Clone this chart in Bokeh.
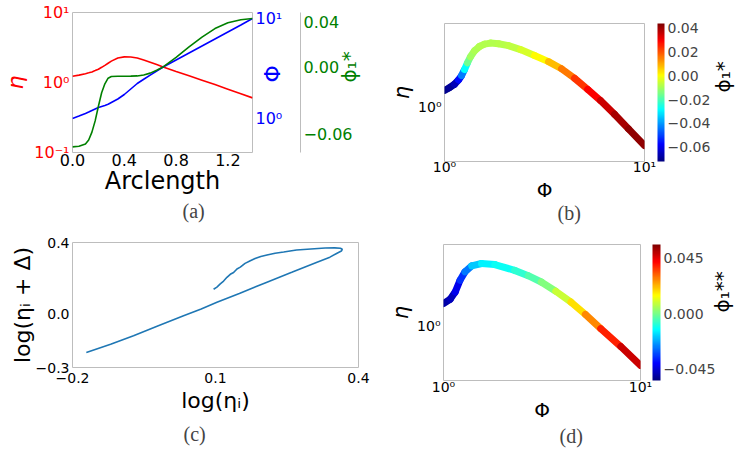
import math
from bokeh.plotting import figure
from bokeh.models import (Range1d, LinearAxis, LogAxis, LogScale, LinearScale, FixedTicker,
                          CustomJSTickFormatter, ColorBar, LinearColorMapper, Title,
                          ColumnDataSource)
from bokeh.layouts import column, row
from bokeh.embed import file_html
from bokeh.resources import INLINE
from bokeh.transform import linear_cmap

# ---------------- data ----------------
# (a) quantities along the arclength
arclength = [0.00, 0.05, 0.10, 0.125, 0.15, 0.175, 0.20, 0.225, 0.25, 0.275, 0.30, 0.35, 0.40,
             0.45, 0.50, 0.55, 0.60, 0.65, 0.70, 0.80, 0.90, 1.00, 1.10, 1.20, 1.30, 1.39]
eta_a = [1.230, 1.274, 1.334, 1.374, 1.416, 1.479, 1.549, 1.648, 1.758, 1.884, 2.018, 2.239, 2.323,
         2.312, 2.239, 2.099, 1.950, 1.803, 1.667, 1.439, 1.245, 1.079, 0.933, 0.804, 0.692, 0.603]
Phi_a = [1.000, 1.059, 1.122, 1.159, 1.202, 1.245, 1.288, 1.321, 1.352, 1.387, 1.445, 1.567, 1.738,
         1.972, 2.239, 2.466, 2.716, 2.985, 3.273, 3.846, 4.519, 5.309, 6.237, 7.328, 8.610, 10.00]
phistar_a = [-0.0711, -0.0706, -0.0685, -0.0650, -0.0580, -0.0480, -0.0350, -0.0230, -0.0150,
             -0.0100, -0.0085, -0.0083, -0.0083, -0.0082, -0.0080, -0.0072, -0.0055, -0.0030,
             0.0000, 0.0085, 0.0178, 0.0265, 0.0341, 0.0392, 0.0420, 0.0430]

# (b) eta vs Phi coloured by phi1*
Phi_b = [1.000, 1.059, 1.122, 1.175, 1.216, 1.259, 1.303, 1.349, 1.413, 1.496, 1.585, 1.698,
         1.862, 2.089, 2.399, 2.818, 3.311, 3.846, 4.467, 5.200, 6.026, 7.079, 8.318, 10.00]
eta_b = [1.242, 1.288, 1.349, 1.429, 1.514, 1.641, 1.799, 1.950, 2.113, 2.239, 2.312, 2.344,
         2.323, 2.265, 2.148, 1.986, 1.828, 1.660, 1.462, 1.259, 1.084, 0.902, 0.741, 0.592]
phistar_b = [-0.071, -0.070, -0.068, -0.063, -0.050, -0.036, -0.020, -0.011, -0.009, -0.0085,
             -0.0083, -0.0083, -0.0082, -0.0075, -0.006, -0.002, 0.004, 0.012, 0.020, 0.027,
             0.033, 0.038, 0.041, 0.043]
cbar_b_ticks = [-0.06, -0.04, -0.02, 0.00, 0.02, 0.04]

# (c) log(eta_i + Delta) vs log(eta_i)
log_eta_i = [-0.171, -0.120, -0.072, -0.020, 0.033, 0.070, 0.103, 0.150, 0.208, 0.260, 0.313,
             0.340, 0.355, 0.364, 0.366, 0.362, 0.350, 0.330, 0.300, 0.270, 0.243, 0.225, 0.208,
             0.195, 0.183, 0.173, 0.162, 0.152, 0.145, 0.138, 0.131, 0.124, 0.117, 0.110, 0.103,
             0.096]
log_eta_i_delta = [-0.216, -0.170, -0.122, -0.066, -0.010, 0.028, 0.065, 0.115, 0.178, 0.233,
                   0.290, 0.318, 0.340, 0.352, 0.362, 0.368, 0.370, 0.369, 0.364, 0.358, 0.347,
                   0.340, 0.330, 0.322, 0.310, 0.298, 0.283, 0.262, 0.252, 0.232, 0.222, 0.205,
                   0.184, 0.168, 0.150, 0.138]

# (d) eta vs Phi coloured by phi1**
Phi_d = [1.000, 1.081, 1.146, 1.213, 1.285, 1.390, 1.560, 1.820, 2.296, 2.692, 3.133, 3.715,
         4.436, 5.248, 6.281, 7.943, 10.00]
eta_d = [1.358, 1.439, 1.585, 1.858, 2.080, 2.254, 2.328, 2.296, 2.123, 1.977, 1.816, 1.603,
         1.387, 1.175, 0.970, 0.762, 0.592]
phistar2_d = [-0.050, -0.049, -0.046, -0.038, -0.032, -0.022, -0.015, -0.013, -0.010, -0.006,
              -0.002, 0.004, 0.014, 0.022, 0.033, 0.044, 0.051]
cbar_d_ticks = [-0.045, 0.000, 0.045]

# ---------------- styling helpers ----------------
FONT = "DejaVu Sans"
SERIF = "Liberation Serif"
FRAME = "#bdbdbd"


def jet_palette(n=256):
    pal = []
    for i in range(n):
        t = i / (n - 1)
        r = min(max(1.5 - abs(4 * t - 3), 0), 1)
        g = min(max(1.5 - abs(4 * t - 2), 0), 1)
        b = min(max(1.5 - abs(4 * t - 1), 0), 1)
        pal.append("#%02x%02x%02x" % (round(r * 255), round(g * 255), round(b * 255)))
    return pal


JET = jet_palette()


def log_fmt():
    return CustomJSTickFormatter(code="""
const e = Math.round(Math.log10(tick));
const m = {"-": "\\u207b", "0": "\\u2070", "1": "\\u00b9", "2": "\\u00b2"};
return "10" + String(e).split("").map(c => m[c]).join("");
""")


def fixed_fmt(d):
    return CustomJSTickFormatter(code=f"return tick.toFixed({d}).replace('-', '\\u2212');")


def style_axis(ax, size, color="black"):
    ax.axis_line_color = None
    ax.major_tick_line_color = None
    ax.minor_tick_line_color = None
    ax.major_tick_out = 0
    ax.major_tick_in = 0
    ax.minor_tick_out = 0
    ax.minor_tick_in = 0
    ax.major_label_text_font = FONT
    ax.major_label_text_font_size = size
    ax.major_label_text_color = color
    ax.axis_label_text_font = FONT
    ax.axis_label_text_font_style = "normal"
    ax.axis_label_text_color = color


def bottom_to_top(ax):
    if "axis_label_orientation" in ax.properties():
        ax.axis_label_orientation = math.pi / 2


def make_fig(w, h, left, right, top, bottom, **kw):
    p = figure(width=w, height=h, min_border_left=left, min_border_right=right,
               min_border_top=top, min_border_bottom=bottom, output_backend="svg",
               toolbar_location=None, title=None, **kw)
    if "frame_align" in p.properties():
        p.frame_align = False
    p.grid.visible = False
    p.outline_line_color = FRAME
    p.outline_line_width = 1
    p.background_fill_color = "white"
    p.border_fill_color = "white"
    return p


def caption(p, text, offset, standoff):
    kw = dict(text=text, align="left", offset=offset, text_font=SERIF,
              text_font_size="20px", text_font_style="normal")
    try:
        t = Title(standoff=standoff, **kw)
    except Exception:
        t = Title(standoff=0, **kw)
    p.add_layout(t, "below")


def colored_line(p, xs, ys, cs, low, high):
    src = ColumnDataSource(dict(
        xs=[[xs[i], xs[i + 1]] for i in range(len(xs) - 1)],
        ys=[[ys[i], ys[i + 1]] for i in range(len(ys) - 1)],
        c=[(cs[i] + cs[i + 1]) / 2 for i in range(len(cs) - 1)],
    ))
    p.multi_line("xs", "ys", source=src, line_width=7, line_cap="round", line_join="round",
                 line_color=linear_cmap("c", JET, low, high))


def add_colorbar(p, low, high, ticks, digits, xoff, width, height, label, label_standoff):
    mapper = LinearColorMapper(palette=JET, low=low, high=high)
    cb = ColorBar(color_mapper=mapper, ticker=FixedTicker(ticks=ticks), formatter=fixed_fmt(digits),
                  width=width, height=height, location=(xoff, 0), margin=0, padding=0,
                  major_label_text_font=FONT, major_label_text_font_size="14px",
                  major_tick_line_color=None, minor_tick_line_color=None, bar_line_color=None,
                  major_tick_out=0, major_tick_in=0, minor_tick_out=0, minor_tick_in=0,
                  label_standoff=3, background_fill_color=None, border_line_color=None)
    p.add_layout(cb, "right")
    # axis that only carries the colour-bar label
    lab = LinearAxis(ticker=FixedTicker(ticks=[], minor_ticks=[]), axis_label=label)
    style_axis(lab, "14px")
    lab.major_label_standoff = 0
    lab.axis_label_text_font_size = "20px"
    lab.axis_label_standoff = label_standoff
    bottom_to_top(lab)
    p.add_layout(lab, "right")


# ---------------- panel (a) ----------------
pa = make_fig(375, 226, 67, 122, 12, 74, x_range=Range1d(0, 1.39), y_range=Range1d(0.1, 10),
              y_axis_type="log")
pa.extra_y_ranges = {"phi": Range1d(0.457, 11.48), "ps": Range1d(-0.0761, 0.0484)}
pa.extra_y_scales = {"phi": LogScale(), "ps": LinearScale()}

pa.line(arclength, eta_a, line_color="#ff0000", line_width=1.6)
pa.line(arclength, Phi_a, line_color="#0000ff", line_width=1.6, y_range_name="phi")
pa.line(arclength, phistar_a, line_color="#008000", line_width=1.6, y_range_name="ps")

ya = pa.yaxis[0]
ya.ticker = FixedTicker(ticks=[0.1, 1, 10], minor_ticks=[])
ya.formatter = log_fmt()
style_axis(ya, "16px", "#ff0000")
ya.major_label_standoff = 3
ya.axis_label = "η"
ya.axis_label_text_font_size = "22px"
ya.axis_label_text_font_style = "italic"
ya.axis_label_standoff = 3

phi_ax = LogAxis(y_range_name="phi", ticker=FixedTicker(ticks=[1, 10], minor_ticks=[]),
                 formatter=log_fmt(), axis_label="Φ")
style_axis(phi_ax, "16px", "#0000ff")
phi_ax.major_label_standoff = 3
phi_ax.axis_label_text_font_size = "22px"
phi_ax.axis_label_standoff = -13
bottom_to_top(phi_ax)
pa.add_layout(phi_ax, "right")

ps_ax = LinearAxis(y_range_name="ps", ticker=FixedTicker(ticks=[-0.06, 0.0, 0.04], minor_ticks=[]),
                   formatter=fixed_fmt(2), axis_label="ϕ₁*")
style_axis(ps_ax, "16px", "#008000")
ps_ax.axis_line_color = FRAME
ps_ax.major_label_standoff = 3
ps_ax.axis_label_text_font_size = "20px"
ps_ax.axis_label_standoff = -7
bottom_to_top(ps_ax)
pa.add_layout(ps_ax, "right")

xa = pa.xaxis[0]
xa.ticker = FixedTicker(ticks=[0.0, 0.4, 0.8, 1.2], minor_ticks=[])
xa.formatter = fixed_fmt(1)
style_axis(xa, "16px")
xa.major_label_standoff = 1
xa.axis_label = "Arclength"
xa.axis_label_text_font_size = "24px"
xa.axis_label_standoff = -2
caption(pa, "(a)", 110, 0)

# ---------------- panel (b) ----------------
pb = make_fig(374, 226, 69, 105, 23, 65, x_range=Range1d(1, 10), y_range=Range1d(0.4786, 3.048),
              x_axis_type="log", y_axis_type="log")
colored_line(pb, Phi_b, eta_b, phistar_b, -0.072, 0.0442)
yb = pb.yaxis[0]
yb.ticker = FixedTicker(ticks=[1], minor_ticks=[])
yb.formatter = log_fmt()
style_axis(yb, "14px")
yb.major_label_standoff = 3
yb.axis_label = "η"
yb.axis_label_text_font_size = "21px"
yb.axis_label_text_font_style = "italic"
yb.axis_label_standoff = 1
xb = pb.xaxis[0]
xb.ticker = FixedTicker(ticks=[1, 10], minor_ticks=[])
xb.formatter = log_fmt()
style_axis(xb, "14px")
xb.major_label_standoff = -3
xb.axis_label = "Φ"
xb.axis_label_text_font_size = "20px"
xb.axis_label_standoff = 0
add_colorbar(pb, -0.072, 0.0442, cbar_b_ticks, 2, 13, 7, 138, "ϕ₁*", 9)
caption(pb, "(b)", 113, -10)

# ---------------- panel (c) ----------------
pc = make_fig(375, 228, 72, 17, 16, 87, x_range=Range1d(-0.2, 0.4), y_range=Range1d(-0.3, 0.4))
pc.line(log_eta_i, log_eta_i_delta, line_color="#1f77b4", line_width=1.6)
yc = pc.yaxis[0]
yc.ticker = FixedTicker(ticks=[-0.3, 0.0, 0.4], minor_ticks=[])
yc.formatter = fixed_fmt(1)
style_axis(yc, "14px")
yc.major_label_standoff = 3
yc.axis_label = "log(ηᵢ + Δ)"
yc.axis_label_text_font_size = "22px"
yc.axis_label_standoff = -2
xc = pc.xaxis[0]
xc.ticker = FixedTicker(ticks=[-0.2, 0.1, 0.4], minor_ticks=[])
xc.formatter = fixed_fmt(1)
style_axis(xc, "14px")
xc.major_label_standoff = 5
xc.axis_label = "log(ηᵢ)"
xc.axis_label_text_font_size = "22px"
xc.axis_label_standoff = 2
caption(pc, "(c)", 111, 10)

# ---------------- panel (d) ----------------
pd = make_fig(374, 228, 68, 109, 18, 74, x_range=Range1d(1, 10), y_range=Range1d(0.483, 3.006),
              x_axis_type="log", y_axis_type="log")
colored_line(pd, Phi_d, eta_d, phistar2_d, -0.054, 0.056)
yd = pd.yaxis[0]
yd.ticker = FixedTicker(ticks=[1], minor_ticks=[])
yd.formatter = log_fmt()
style_axis(yd, "14px")
yd.major_label_standoff = 3
yd.axis_label = "η"
yd.axis_label_text_font_size = "21px"
yd.axis_label_text_font_style = "italic"
yd.axis_label_standoff = 1
xd = pd.xaxis[0]
xd.ticker = FixedTicker(ticks=[1, 10], minor_ticks=[])
xd.formatter = log_fmt()
style_axis(xd, "14px")
xd.major_label_standoff = -2
xd.axis_label = "Φ"
xd.axis_label_text_font_size = "20px"
xd.axis_label_standoff = 0
add_colorbar(pd, -0.054, 0.056, cbar_d_ticks, 3, 12, 8, 136, "ϕ₁**", 3)
caption(pd, "(d)", 116, -4)

layout = column(row(pa, pb), row(pc, pd))
open("out.html", "w").write(file_html(layout, INLINE))
